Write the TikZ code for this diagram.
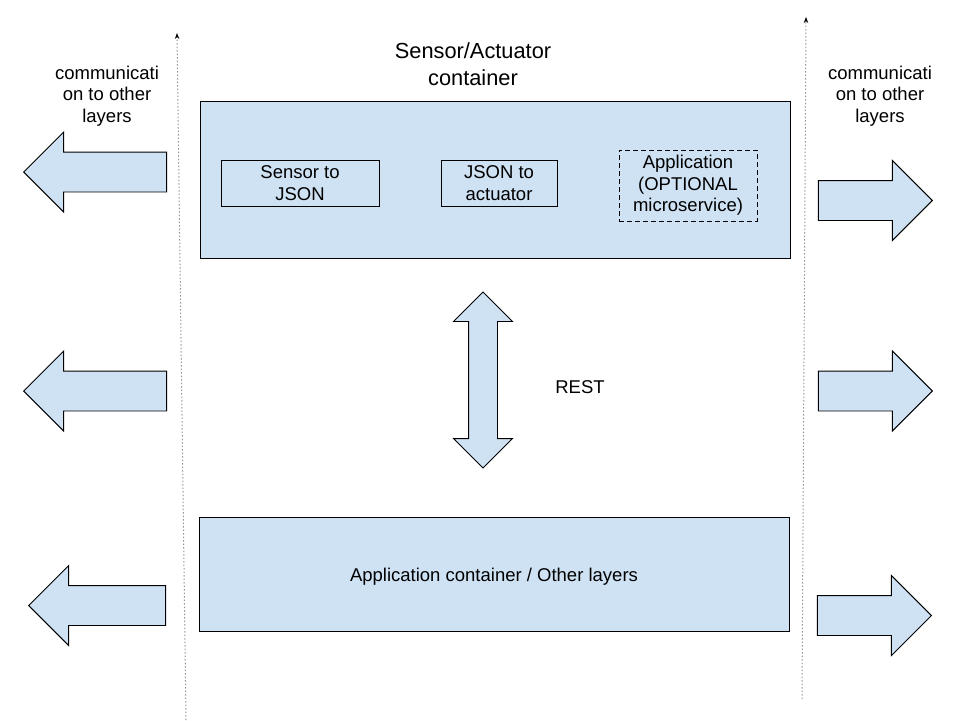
\documentclass[tikz,border=0pt]{standalone}
\usepackage{fontspec}
\setmainfont{Liberation Sans}
\usetikzlibrary{arrows.meta,shapes.arrows}
\definecolor{boxblue}{RGB}{207,226,243}
\definecolor{dotgray}{RGB}{150,150,150}

\begin{document}
\begin{tikzpicture}[x=1pt,y=-1pt,line width=.9pt,
  font=\fontsize{18.5}{21.5}\selectfont,
  container/.style={draw,fill=boxblue,minimum width=590pt,inner sep=0pt,align=center},
  inbox/.style={draw,fill=boxblue,minimum height=46pt,inner sep=0pt,align=center},
  blockarrow/.style={draw,fill=boxblue,single arrow,single arrow head extend=20pt,
    minimum width=79pt,inner xsep=0pt,inner ysep=19.5pt,anchor=tip},
  layertext/.style={align=center},
  layerline/.style={dotgray,dash pattern=on 1.5pt off 2pt,line width=1pt,
    -{Stealth[length=6pt,width=4.5pt,black]}}]
\useasboundingbox (0,0) rectangle (960,720);

% containers
\node[container,minimum height=157pt] (sensor) at (495,179.5) {};
\node[font=\fontsize{21.8}{27}\selectfont,align=center] (title) at (473,64) {Sensor/Actuator\\container};
\node[inbox,minimum width=158pt] (s2j) at (300,183) {Sensor to\\JSON};
\node[inbox,minimum width=116pt] (j2a) at (499,183) {JSON to\\actuator};
\node[inbox,dash pattern=on 5pt off 3pt,minimum width=138pt,minimum height=71pt] (app) at (688,185.5) {Application\\(OPTIONAL\\microservice)};
\node[container,minimum height=114pt,align=none,text height=19pt,text depth=4pt] (appc) at (494,574) {Application container / Other layers};

% REST
\node[draw,fill=boxblue,double arrow,shape border rotate=90,double arrow head extend=15pt,
  minimum height=176pt,minimum width=58pt,inner xsep=14pt,inner ysep=0pt] (rest) at (483,380) {};
\node (restlbl) at (580,387) {REST};

% layer boundaries
\coordinate (lbot) at (186,720);
\coordinate (ltop) at (177,33);
\coordinate (rbot) at (802,699);
\coordinate (rtop) at (806,17);
\draw[layerline] (lbot) -- (ltop);
\draw[layerline] (rbot) -- (rtop);
\node[layertext] (lcomm) at (107,96) {communicati\\on to other\\layers};
\node[layertext] (rcomm) at (880,96) {communicati\\on to other\\layers};

% arrows to other layers
\node[blockarrow,shape border rotate=180,minimum height=143pt] (l1) at (23,172) {};
\node[blockarrow,shape border rotate=180,minimum height=143pt] (l2) at (23,391) {};
\node[blockarrow,shape border rotate=180,minimum height=137pt] (l3) at (28,605.5) {};
\node[blockarrow,minimum height=114pt] (r1) at (933,200.5) {};
\node[blockarrow,minimum height=114pt] (r2) at (933,391) {};
\node[blockarrow,minimum height=114pt] (r3) at (932,615.5) {};
\end{tikzpicture}
\end{document}
